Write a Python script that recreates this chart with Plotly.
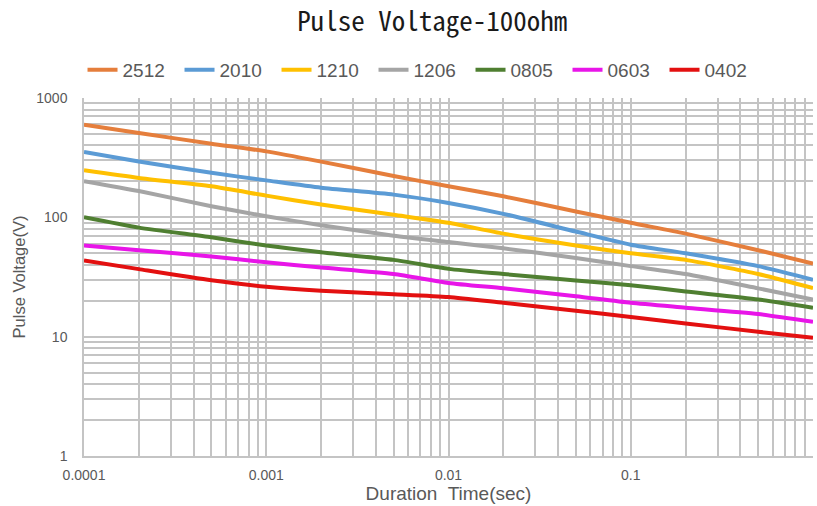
import plotly.graph_objects as go

duration = [1e-4, 2e-4, 5e-4, 1e-3, 2e-3, 5e-3, 1e-2, 2e-2, 5e-2, 0.1, 0.2, 0.5, 1.0]

v_2512 = [597, 509, 414, 357, 293, 222, 182, 150, 112, 90, 73, 53, 41]
v_2010 = [353, 294, 236, 204, 177, 155, 132, 107, 76, 59, 50, 39, 30]
v_1210 = [248, 214, 182, 152, 128, 105, 90, 73, 58, 50, 44, 33.5, 25.5]
v_1206 = [201, 166, 124, 102, 86, 70, 62, 55, 45.7, 39, 33.5, 25.4, 20.5]
v_0805 = [100, 82, 68, 58, 51, 44, 37, 33.5, 29.6, 27, 23.9, 20.5, 17.5]
v_0603 = [58, 53, 47, 42, 38, 33.5, 28.2, 25.4, 21.8, 19.2, 17.5, 15.5, 13.3]
v_0402 = [43.5, 36.8, 29.7, 26.2, 24.2, 22.7, 21.5, 19.2, 16.5, 14.6, 12.9, 11, 9.8]

series_names = ["2512", "2010", "1210", "1206", "0805", "0603", "0402"]
series_values = [v_2512, v_2010, v_1210, v_1206, v_0805, v_0603, v_0402]
colors = ["#E57E3C", "#5B9BD5", "#FFC000", "#A5A5A5", "#4F7F31", "#E815E8", "#E31010"]

x_tickvals = [0.0001, 0.001, 0.01, 0.1, 1]
x_ticktext = ["0.0001", "0.001", "0.01", "0.1", "1"]
y_tickvals = [1, 10, 100, 1000]
y_ticktext = ["1", "10", "100", "1000"]

fig = go.Figure()
for name, vals, c in zip(series_names, series_values, colors):
    fig.add_trace(go.Scatter(
        x=duration, y=vals, name=name, mode="lines",
        line=dict(color=c, width=4, shape="spline", smoothing=0.6),
    ))

grid = "#C4C4C4"
fig.update_layout(
    width=817, height=506,
    margin=dict(l=84, r=4, t=98, b=50, autoexpand=False),
    paper_bgcolor="white", plot_bgcolor="white",
    title=dict(text="Pulse Voltage-100ohm", x=0.529, xanchor="center",
               xref="container", yref="container", y=0.958, yanchor="middle",
               font=dict(family="Noto Sans Mono CJK JP, Liberation Mono, monospace", size=27, color="#1a1a1a")),
    legend=dict(orientation="h", xref="container", yref="container",
                x=0.101, xanchor="left", y=0.862, yanchor="middle",
                font=dict(family="Liberation Sans, Arial, sans-serif", size=19, color="#595959"),
                entrywidth=52, entrywidthmode="pixels", itemwidth=30,
                bgcolor="rgba(0,0,0,0)"),
    font=dict(family="Liberation Sans, Arial, sans-serif", color="#595959"),
    showlegend=True,
)
fig.update_xaxes(
    type="log", range=[-4, 0], automargin=False,
    tickvals=x_tickvals, ticktext=x_ticktext,
    tickfont=dict(size=14, color="#595959"), ticklabelstandoff=5,
    showgrid=True, gridcolor=grid, gridwidth=1.5,
    minor=dict(showgrid=True, gridcolor=grid, gridwidth=1.5, dtick="D1"),
    showline=True, linecolor=grid, linewidth=1.5, mirror=False,
    ticks="", ticklen=0,
    title=dict(text="Duration  Time(sec)", font=dict(size=19, color="#595959"), standoff=2),
    zeroline=False,
)
fig.update_yaxes(
    type="log", range=[0, 3], automargin=False,
    tickvals=y_tickvals, ticktext=y_ticktext,
    tickfont=dict(size=14, color="#595959"), ticklabelstandoff=12,
    showgrid=True, gridcolor=grid, gridwidth=1.5,
    minor=dict(showgrid=True, gridcolor=grid, gridwidth=1.5, dtick="D1"),
    showline=True, linecolor=grid, linewidth=1.5,
    ticks="", ticklen=0,
    title=dict(text="Pulse Voltage(V)", font=dict(size=16.5, color="#595959"), standoff=7),
    zeroline=False,
)

fig.write_html("out.html", config={"displayModeBar": False},
               post_script="document.body.style.margin='0';document.body.style.overflow='hidden';")
